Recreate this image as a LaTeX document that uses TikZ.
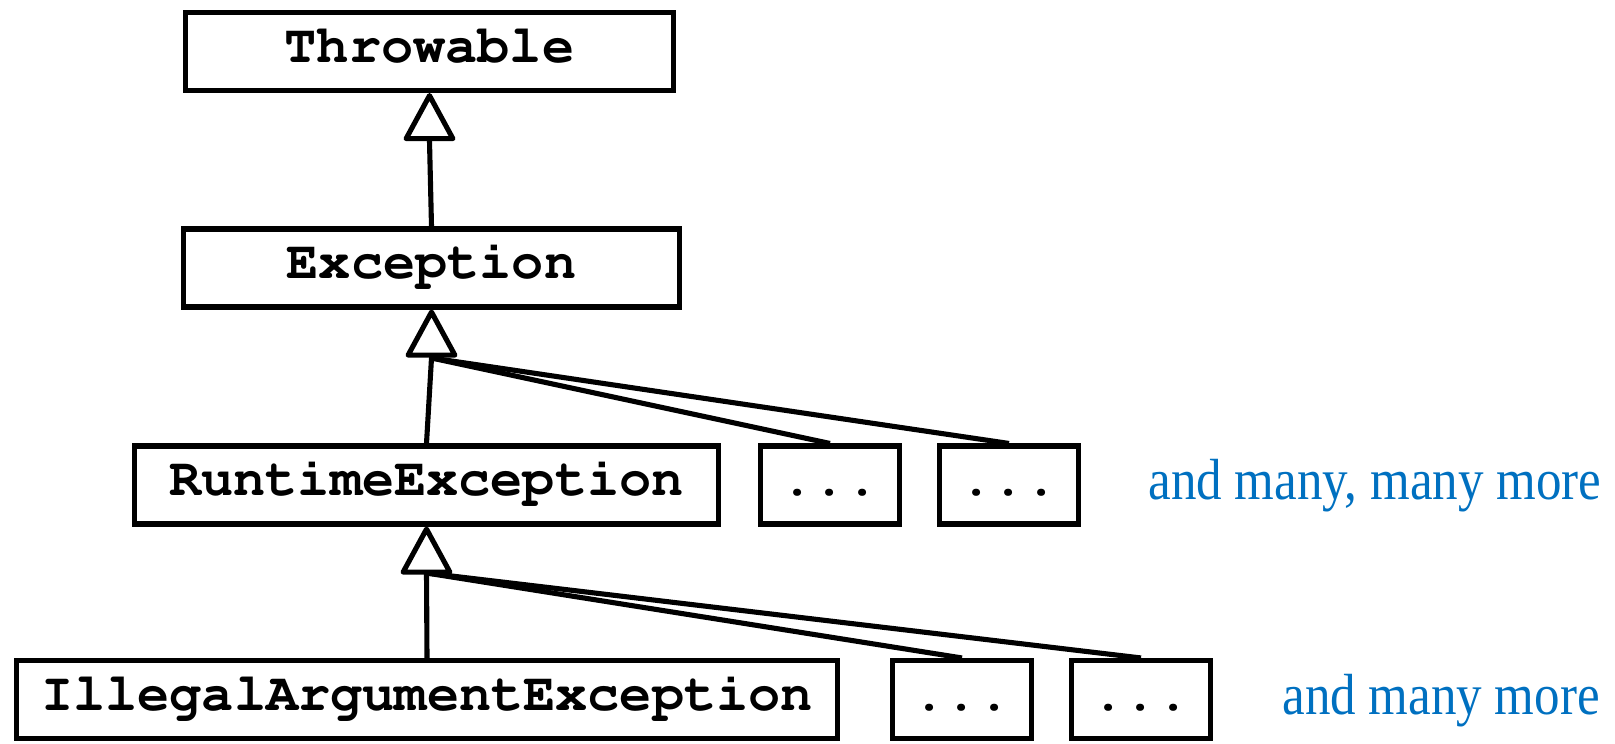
\documentclass[tikz,border=0pt]{standalone}
\usepackage[T1,TU]{fontenc}
\usepackage{fontspec}
\newfontfamily\notefont[FakeStretch=0.88]{Liberation Serif}
\usetikzlibrary{arrows.meta}
\definecolor{noteblue}{RGB}{0,112,192}
\newcommand\clsfont{\fontencoding{T1}\fontfamily{pcr}\fontseries{b}\fontsize{30.5}{32}\selectfont}
\begin{document}
\begin{tikzpicture}[cls/.style={draw,line width=2.9pt,inner sep=0pt,minimum height=1.56cm,
    text height=18pt,text depth=5.5pt,font=\clsfont},
  note/.style={text=noteblue,inner sep=0pt,anchor=base west,font=\fontsize{33}{36}\selectfont\notefont},
  isa/.style={line width=2.9pt,line join=round,-{Triangle[open,length=1.02cm,width=1.08cm,line join=round]}},
  lnk/.style={line width=2.9pt}]
\useasboundingbox (0,0) rectangle (32.3,-14.86);
% classes
\node[cls,minimum width=9.76cm] (T) at (8.59,-1.03) {Throwable};
\node[cls,minimum width=9.92cm] (E) at (8.63,-5.36) {Exception};
\node[cls,minimum width=11.68cm] (R) at (8.53,-9.70) {RuntimeException};
\node[cls,minimum width=2.78cm] (R1) at (16.60,-9.70) {...};
\node[cls,minimum width=2.78cm] (R2) at (20.18,-9.70) {...};
\node[cls,minimum width=16.42cm] (I) at (8.54,-13.99) {IllegalArgumentException};
\node[cls,minimum width=2.78cm] (I1) at (19.24,-13.99) {...};
\node[cls,minimum width=2.78cm] (I2) at (22.82,-13.99) {...};
\node[note] (n1) at (22.96,-9.98) {and many, many more};
\node[note] (n2) at (25.64,-14.28) {and many more};
% inheritance
\coordinate (bT) at (T.south |- 0,-2.82);
\coordinate (bE) at (E.south |- 0,-7.16);
\coordinate (bR) at (R.south |- 0,-11.46);
\draw[isa] (bT) -- (T.south);
\draw[isa] (bE) -- (E.south);
\draw[isa] (bR) -- (R.south);
\draw[lnk] (E.north) -- (bT);
\foreach \c in {R,R1,R2} \draw[lnk] (\c.north) -- (bE);
\foreach \c in {I,I1,I2} \draw[lnk] (\c.north) -- (bR);
\end{tikzpicture}
\end{document}
